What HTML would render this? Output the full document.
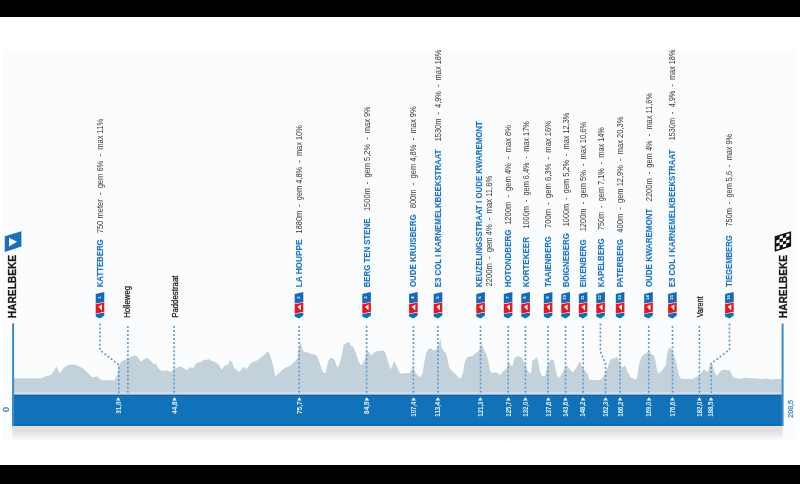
<!DOCTYPE html><html><head><meta charset="utf-8"><style>html,body{margin:0;padding:0;background:#fff;width:800px;height:484px;overflow:hidden}svg{display:block;filter:blur(0.35px)}text{font-family:"Liberation Sans",sans-serif}</style></head><body>
<svg width="800" height="484" viewBox="0 0 800 484">
<defs><linearGradient id="sh" x1="0" y1="0" x2="0" y2="1"><stop offset="0" stop-color="#e4e0de"/><stop offset="0.2" stop-color="#e1dfde"/><stop offset="0.3" stop-color="#dcdfe1"/><stop offset="1" stop-color="#fbfcfd"/></linearGradient></defs>
<rect x="0" y="0" width="800" height="484" fill="#ffffff"/>
<rect x="2" y="49.6" width="792.5" height="390.4" fill="#fbfcfd"/>
<rect x="0" y="0" width="800" height="17" fill="#000"/>
<rect x="0" y="465" width="800" height="19" fill="#000"/>
<polygon points="14,378.3 41.6,378.3 45.6,376.3 51,375 54,371 56.4,366.2 59.7,373.6 63,369 66,366 68.5,364.9 73.2,364.6 76.5,365.2 79.2,366.2 82.5,368 85.9,371 89,374 92.6,377.6 96.6,376.3 100,379 102.7,380.3 114.8,380.3 117.4,374.3 119.5,364.2 122.1,360.9 126.8,358.9 132.2,356.2 135.6,355.5 137.6,356.8 140.3,361.5 143,360.2 147,357.5 150.3,360.2 153.7,364.2 155.7,363.6 159.1,368.9 161.7,370.9 167.1,370.3 170.5,372.3 173.8,368.9 180.5,366.2 183.9,368.3 187.2,370.3 189.9,366.9 192.6,368.3 194.6,366.2 196.6,362.9 200,362.2 202,361.5 204,359.5 205.6,360.6 208.1,358.9 210.7,360.2 213.4,361.5 216.8,362.9 218.8,364.9 221.5,369.6 223.1,368.3 224.8,365.2 226.8,365.6 228.2,364.2 229.8,360.6 231.9,362.2 234.2,368.3 236,368.9 238.3,371.6 240.3,371.3 242.7,367.6 244,366.9 246.3,369.6 249,365.6 251.7,362.2 254.4,361.5 257.7,360.2 261.7,356.8 265.1,354.2 267.1,351.5 269.1,352.8 271.1,358.2 273.2,366.2 275.2,376.3 277.2,375 279.9,372.3 283.2,368.9 287.2,366.9 289.9,366 292.6,363.6 295.3,360.9 297.3,358.2 298.7,350.1 300,342.8 301.3,344.1 302.7,350.1 304,352.1 306.7,351.7 309.4,353.5 312.8,354.2 315.4,354.8 317.4,356.8 319.5,362.2 321.5,368.9 323.5,372.7 325.8,372.7 327.5,363.6 328.9,359.5 331.5,357.5 334.2,359.5 336,363.6 337.3,367.6 338.9,365.6 340.9,359.5 342.7,351.5 343.6,344.8 345.6,343.4 348.1,342.3 349.7,342.8 350.7,345.4 353,346.8 355,350.8 357,356.8 359.1,362.2 361.1,365.6 363.1,363.6 365.1,358.2 366.4,350.1 368.5,351.5 371.1,355.5 373.2,353.5 376.5,351.2 380.5,350.8 383.9,350.4 385.9,354.2 387.9,361.5 390.6,369.6 392.6,365.6 394,361.1 396,364.9 398,368.9 400,373.6 402.7,373.6 405.4,373.2 409.4,373 411.4,370.3 412.8,365.6 414.1,370.3 416.1,373.6 418.8,376.3 420.8,377 422.6,373 424.2,363.6 426.2,352.8 428.2,349.5 430.2,348.1 432.2,349.5 434.9,350.8 436.9,348.8 438.3,346.1 439.6,340.7 440.5,339.4 441.6,347.4 443.6,350.8 445.6,352.8 447,356.8 449,366.9 451,370.3 453.7,372.3 456.4,375 459.1,378.3 461.1,377.7 463.1,373 464.4,363.6 465.8,358.9 468.5,356.8 471.8,356.2 474.5,354.2 477.2,352.1 479.9,349.5 481.2,342.1 482.6,346.1 484.6,350.8 486.6,354.8 488.6,362.2 489.9,370.3 491.9,373.2 494.6,372.3 497.3,373 500,375 502,373 504,370.3 506.7,368.3 508.7,361.5 510.7,365.6 512.8,365.6 514.1,358.9 516.1,356.6 519.5,356.2 521.5,357.5 523.5,361.5 525.5,364.9 527.5,370.3 529.5,373.6 531.1,373 532.2,360.9 534.2,359.5 536.9,357.5 538.3,362.2 540.3,373 542.3,376.3 545,376.3 547,367.6 549,362.2 551.7,358.9 553.7,360.2 555,366.2 557,375.6 559.1,377.7 561.1,375 563.8,370.3 565.8,365.2 567.8,366.2 569.8,369.6 572.5,372.3 574.5,370.3 577.2,366.2 579.9,361.1 581.2,364.9 583.2,368.3 585.9,371.6 587.9,374.3 589.3,379.7 594,379.9 600.5,379.9 602,378 604,375.5 606,371 607.5,367.6 610.2,360.6 611.9,358.5 614.8,358.3 616.8,356.8 618.1,358.9 620.1,362.9 621.5,367.6 622.8,367.6 624.8,365.6 626.2,367.6 627.5,373 628.9,373.6 630.2,377 632.9,378.3 635.2,379.7 636.9,378.3 638.3,368.9 639.6,362.2 641.6,356.8 644.3,354.2 647,352.8 649,351.5 651.7,353.9 654.4,356.2 655.7,362.2 657,370.3 658.4,373.6 661.1,371.6 663.8,368.3 665.8,364.9 667.1,354.2 668.5,348.8 669.8,347.4 671.8,349.5 673.8,354.2 675.8,360.9 677.9,370.3 679.9,378.3 683.2,379 692.6,379 696,377 700,375 702,371.6 704,369.2 706,370.9 708.1,371.9 709.4,366.2 711.4,363.8 712.8,365.6 714.1,370.9 716.1,375.6 718.1,375 720.1,371.6 722.8,370 724.8,369.6 726.8,370.3 728.9,370 730.9,372.3 732.9,377 735.6,378.1 738.9,379 741.6,378.6 745.6,377.7 751,378.3 756.4,378.6 761.7,379 767.1,378.6 771.1,379.4 775.2,379 782,379 782,392.5 14,392.5" fill="#c3d1da"/>
<rect x="13" y="392" width="770" height="3" fill="#d4dde3"/>
<rect x="12.3" y="394.8" width="770.4" height="31.2" fill="#1172b9"/>
<rect x="12.3" y="394.8" width="770.4" height="1.2" fill="#0c63aa"/>
<rect x="12.3" y="424.8" width="770.4" height="1.2" fill="#0e69b0"/>
<rect x="12.3" y="426" width="770.4" height="15" fill="url(#sh)"/>
<rect x="12.1" y="323.3" width="2" height="102.7" fill="#3b8bcb"/>
<rect x="781.6" y="323.5" width="2" height="102.5" fill="#3b8bcb"/>
<path d="M100,323.4 L100,350.1 L118.8,364.9 L118.8,393" fill="none" stroke="#5a9ad3" stroke-width="1.6" stroke-dasharray="2 2.05" />
<path d="M127.9,325.9 L127.9,393" fill="none" stroke="#5a9ad3" stroke-width="1.6" stroke-dasharray="2 2.05" />
<path d="M174.1,325.9 L174.1,393" fill="none" stroke="#5a9ad3" stroke-width="1.6" stroke-dasharray="2 2.05" />
<path d="M299.1,325.9 L299.1,393" fill="none" stroke="#5a9ad3" stroke-width="1.6" stroke-dasharray="2 2.05" />
<path d="M366.6,325.9 L366.6,393" fill="none" stroke="#5a9ad3" stroke-width="1.6" stroke-dasharray="2 2.05" />
<path d="M413.4,325.9 L413.4,393" fill="none" stroke="#5a9ad3" stroke-width="1.6" stroke-dasharray="2 2.05" />
<path d="M437.9,325.9 L437.9,393" fill="none" stroke="#5a9ad3" stroke-width="1.6" stroke-dasharray="2 2.05" />
<path d="M480.5,325.9 L480.5,393" fill="none" stroke="#5a9ad3" stroke-width="1.6" stroke-dasharray="2 2.05" />
<path d="M508.2,325.9 L508.2,393" fill="none" stroke="#5a9ad3" stroke-width="1.6" stroke-dasharray="2 2.05" />
<path d="M525.4,325.9 L525.4,393" fill="none" stroke="#5a9ad3" stroke-width="1.6" stroke-dasharray="2 2.05" />
<path d="M548.1,325.9 L548.1,393" fill="none" stroke="#5a9ad3" stroke-width="1.6" stroke-dasharray="2 2.05" />
<path d="M565.5,325.9 L565.5,393" fill="none" stroke="#5a9ad3" stroke-width="1.6" stroke-dasharray="2 2.05" />
<path d="M583.1,325.9 L583.1,393" fill="none" stroke="#5a9ad3" stroke-width="1.6" stroke-dasharray="2 2.05" />
<path d="M600.4,323.4 L600.4,351.6 L605.5,363.8 L605.5,393" fill="none" stroke="#5a9ad3" stroke-width="1.6" stroke-dasharray="2 2.05" />
<path d="M620.1,325.9 L620.1,393" fill="none" stroke="#5a9ad3" stroke-width="1.6" stroke-dasharray="2 2.05" />
<path d="M648.7,325.9 L648.7,393" fill="none" stroke="#5a9ad3" stroke-width="1.6" stroke-dasharray="2 2.05" />
<path d="M672.5,325.9 L672.5,393" fill="none" stroke="#5a9ad3" stroke-width="1.6" stroke-dasharray="2 2.05" />
<path d="M699.4,325.9 L699.4,393" fill="none" stroke="#5a9ad3" stroke-width="1.6" stroke-dasharray="2 2.05" />
<path d="M729.5,323.4 L729.5,349.5 L711.2,363.6 L711.2,393" fill="none" stroke="#5a9ad3" stroke-width="1.6" stroke-dasharray="2 2.05" />
<polygon points="115.9,400.6 120.5,400.6 118.2,397.2" fill="#fff"/>
<text transform="translate(120.6,413.83) rotate(-90)" x="0" y="0" font-size="6.6" font-weight="bold" fill="#eef4fa" textLength="12.25" lengthAdjust="spacingAndGlyphs" >31,0</text>
<polygon points="172.2,400.6 176.8,400.6 174.5,397.2" fill="#fff"/>
<text transform="translate(176.9,413.79) rotate(-90)" x="0" y="0" font-size="6.6" font-weight="bold" fill="#eef4fa" textLength="12.16" lengthAdjust="spacingAndGlyphs" >44,8</text>
<polygon points="297.1,400.6 301.7,400.6 299.4,397.2" fill="#fff"/>
<text transform="translate(301.8,413.96) rotate(-90)" x="0" y="0" font-size="6.6" font-weight="bold" fill="#eef4fa" textLength="12.42" lengthAdjust="spacingAndGlyphs" >75,7</text>
<polygon points="364.5,400.6 369.1,400.6 366.8,397.2" fill="#fff"/>
<text transform="translate(369.2,413.89) rotate(-90)" x="0" y="0" font-size="6.6" font-weight="bold" fill="#eef4fa" textLength="12.32" lengthAdjust="spacingAndGlyphs" >84,9</text>
<polygon points="411.3,400.6 415.9,400.6 413.6,397.2" fill="#fff"/>
<text transform="translate(416,416.66) rotate(-90)" x="0" y="0" font-size="6.6" font-weight="bold" fill="#eef4fa" textLength="14.86" lengthAdjust="spacingAndGlyphs" >107,4</text>
<polygon points="435.6,400.6 440.2,400.6 437.9,397.2" fill="#fff"/>
<text transform="translate(440.3,416.66) rotate(-90)" x="0" y="0" font-size="6.6" font-weight="bold" fill="#eef4fa" textLength="14.87" lengthAdjust="spacingAndGlyphs" >113,4</text>
<polygon points="478.1,400.6 482.7,400.6 480.4,397.2" fill="#fff"/>
<text transform="translate(482.8,416.66) rotate(-90)" x="0" y="0" font-size="6.6" font-weight="bold" fill="#eef4fa" textLength="15.08" lengthAdjust="spacingAndGlyphs" >121,3</text>
<polygon points="506.1,400.6 510.7,400.6 508.4,397.2" fill="#fff"/>
<text transform="translate(510.8,416.66) rotate(-90)" x="0" y="0" font-size="6.6" font-weight="bold" fill="#eef4fa" textLength="15.11" lengthAdjust="spacingAndGlyphs" >125,7</text>
<polygon points="523.1,400.6 527.7,400.6 525.4,397.2" fill="#fff"/>
<text transform="translate(527.8,416.66) rotate(-90)" x="0" y="0" font-size="6.6" font-weight="bold" fill="#eef4fa" textLength="15.08" lengthAdjust="spacingAndGlyphs" >132,0</text>
<polygon points="546,400.6 550.6,400.6 548.3,397.2" fill="#fff"/>
<text transform="translate(550.7,416.66) rotate(-90)" x="0" y="0" font-size="6.6" font-weight="bold" fill="#eef4fa" textLength="15.08" lengthAdjust="spacingAndGlyphs" >137,6</text>
<polygon points="563.1,400.6 567.7,400.6 565.4,397.2" fill="#fff"/>
<text transform="translate(567.8,416.66) rotate(-90)" x="0" y="0" font-size="6.6" font-weight="bold" fill="#eef4fa" textLength="15.08" lengthAdjust="spacingAndGlyphs" >143,6</text>
<polygon points="580.7,400.6 585.3,400.6 583,397.2" fill="#fff"/>
<text transform="translate(585.4,416.66) rotate(-90)" x="0" y="0" font-size="6.6" font-weight="bold" fill="#eef4fa" textLength="15.08" lengthAdjust="spacingAndGlyphs" >148,2</text>
<polygon points="603.3,400.6 607.9,400.6 605.6,397.2" fill="#fff"/>
<text transform="translate(608,416.66) rotate(-90)" x="0" y="0" font-size="6.6" font-weight="bold" fill="#eef4fa" textLength="15.08" lengthAdjust="spacingAndGlyphs" >162,3</text>
<polygon points="617.8,400.6 622.4,400.6 620.1,397.2" fill="#fff"/>
<text transform="translate(622.5,416.66) rotate(-90)" x="0" y="0" font-size="6.6" font-weight="bold" fill="#eef4fa" textLength="15.08" lengthAdjust="spacingAndGlyphs" >166,2</text>
<polygon points="646.7,400.6 651.3,400.6 649,397.2" fill="#fff"/>
<text transform="translate(651.4,416.66) rotate(-90)" x="0" y="0" font-size="6.6" font-weight="bold" fill="#eef4fa" textLength="15.08" lengthAdjust="spacingAndGlyphs" >169,0</text>
<polygon points="670.1,400.6 674.7,400.6 672.4,397.2" fill="#fff"/>
<text transform="translate(674.8,416.66) rotate(-90)" x="0" y="0" font-size="6.6" font-weight="bold" fill="#eef4fa" textLength="15.08" lengthAdjust="spacingAndGlyphs" >176,6</text>
<polygon points="697.1,400.6 701.7,400.6 699.4,397.2" fill="#fff"/>
<text transform="translate(701.8,416.66) rotate(-90)" x="0" y="0" font-size="6.6" font-weight="bold" fill="#eef4fa" textLength="15.08" lengthAdjust="spacingAndGlyphs" >182,0</text>
<polygon points="708.7,400.6 713.3,400.6 711,397.2" fill="#fff"/>
<text transform="translate(713.4,416.66) rotate(-90)" x="0" y="0" font-size="6.6" font-weight="bold" fill="#eef4fa" textLength="15.02" lengthAdjust="spacingAndGlyphs" >188,5</text>
<text transform="translate(8.9,411.92) rotate(-90)" x="0" y="0" font-size="8.4" font-weight="normal" fill="#3a88cc" textLength="5.05" lengthAdjust="spacingAndGlyphs" stroke="#3a88cc" stroke-width="0.3">0</text>
<text transform="translate(793.3,417.75) rotate(-90)" x="0" y="0" font-size="7.4" font-weight="normal" fill="#3a88cc" textLength="17.75" lengthAdjust="spacingAndGlyphs" stroke="#3a88cc" stroke-width="0.25">208,5</text>
<polygon points="95.7,294 104.3,292 104.3,302 95.7,303.6" fill="#1468b8"/><polygon points="95.7,304.2 104.3,302.6 104.3,311.8 95.7,313.4" fill="#e8141e"/><polygon points="98.3,306.8 102,304.5 101.9,310.5" fill="#fff"/><polygon points="95.7,314 104.3,312.4 104.3,315.4 100,318.4 95.7,316.4" fill="#1468b8"/><text transform="translate(100.6,297.6) rotate(-90)" font-size="4.2" font-weight="bold" fill="#fff" text-anchor="middle">1</text>
<text transform="translate(103,287.31) rotate(-90)" x="0" y="0" font-size="8.6" font-weight="bold" fill="#1f77c7" textLength="47.96" lengthAdjust="spacingAndGlyphs" stroke="#1f77c7" stroke-width="0.12">KATTEBERG</text>
<text transform="translate(103,233.28) rotate(-90)" x="0" y="0" font-size="8.2" font-weight="normal" fill="#3a3a3a" textLength="114.44" lengthAdjust="spacingAndGlyphs" xml:space="preserve">750 meter  -  gem 6%  -  max 11%</text>
<polygon points="294.7,294 303.3,292 303.3,302 294.7,303.6" fill="#1468b8"/><polygon points="294.7,304.2 303.3,302.6 303.3,311.8 294.7,313.4" fill="#e8141e"/><polygon points="297.3,306.8 301,304.5 300.9,310.5" fill="#fff"/><polygon points="294.7,314 303.3,312.4 303.3,315.4 299,318.4 294.7,316.4" fill="#1468b8"/><text transform="translate(299.6,297.6) rotate(-90)" font-size="4.2" font-weight="bold" fill="#fff" text-anchor="middle">2</text>
<text transform="translate(302,287.33) rotate(-90)" x="0" y="0" font-size="8.6" font-weight="bold" fill="#1f77c7" textLength="47.84" lengthAdjust="spacingAndGlyphs" stroke="#1f77c7" stroke-width="0.12">LA HOUPPE</text>
<text transform="translate(302,233.46) rotate(-90)" x="0" y="0" font-size="8.2" font-weight="normal" fill="#3a3a3a" textLength="108.21" lengthAdjust="spacingAndGlyphs" xml:space="preserve">1880m  -  gem 4,8%  -  max 10%</text>
<polygon points="362.3,294 370.9,292 370.9,302 362.3,303.6" fill="#1468b8"/><polygon points="362.3,304.2 370.9,302.6 370.9,311.8 362.3,313.4" fill="#e8141e"/><polygon points="364.9,306.8 368.6,304.5 368.5,310.5" fill="#fff"/><polygon points="362.3,314 370.9,312.4 370.9,315.4 366.6,318.4 362.3,316.4" fill="#1468b8"/><text transform="translate(367.2,297.6) rotate(-90)" font-size="4.2" font-weight="bold" fill="#fff" text-anchor="middle">3</text>
<text transform="translate(369.6,287.31) rotate(-90)" x="0" y="0" font-size="8.6" font-weight="bold" fill="#1f77c7" textLength="68.8" lengthAdjust="spacingAndGlyphs" stroke="#1f77c7" stroke-width="0.12">BERG TEN STENE</text>
<text transform="translate(369.6,211.06) rotate(-90)" x="0" y="0" font-size="8.2" font-weight="normal" fill="#3a3a3a" textLength="104.81" lengthAdjust="spacingAndGlyphs" xml:space="preserve">1500m  -  gem 5,2%  -  max 9%</text>
<polygon points="409.1,294 417.7,292 417.7,302 409.1,303.6" fill="#1468b8"/><polygon points="409.1,304.2 417.7,302.6 417.7,311.8 409.1,313.4" fill="#e8141e"/><polygon points="411.7,306.8 415.4,304.5 415.3,310.5" fill="#fff"/><polygon points="409.1,314 417.7,312.4 417.7,315.4 413.4,318.4 409.1,316.4" fill="#1468b8"/><text transform="translate(414,297.6) rotate(-90)" font-size="4.2" font-weight="bold" fill="#fff" text-anchor="middle">4</text>
<text transform="translate(416.4,287.12) rotate(-90)" x="0" y="0" font-size="8.6" font-weight="bold" fill="#1f77c7" textLength="72.68" lengthAdjust="spacingAndGlyphs" stroke="#1f77c7" stroke-width="0.12">OUDE KRUISBERG</text>
<text transform="translate(416.4,208.3) rotate(-90)" x="0" y="0" font-size="8.2" font-weight="normal" fill="#3a3a3a" textLength="102.06" lengthAdjust="spacingAndGlyphs" xml:space="preserve">800m  -  gem 4,8%  -  max 9%</text>
<polygon points="433.7,294 442.3,292 442.3,302 433.7,303.6" fill="#1468b8"/><polygon points="433.7,304.2 442.3,302.6 442.3,311.8 433.7,313.4" fill="#e8141e"/><polygon points="436.3,306.8 440,304.5 439.9,310.5" fill="#fff"/><polygon points="433.7,314 442.3,312.4 442.3,315.4 438,318.4 433.7,316.4" fill="#1468b8"/><text transform="translate(438.6,297.6) rotate(-90)" font-size="4.2" font-weight="bold" fill="#fff" text-anchor="middle">5</text>
<text transform="translate(441,287.31) rotate(-90)" x="0" y="0" font-size="8.6" font-weight="bold" fill="#1f77c7" textLength="137.96" lengthAdjust="spacingAndGlyphs" stroke="#1f77c7" stroke-width="0.12">E3 COL I KARNEMELKBEEKSTRAAT</text>
<text transform="translate(441,141.25) rotate(-90)" x="0" y="0" font-size="8.2" font-weight="normal" fill="#3a3a3a" textLength="91.71" lengthAdjust="spacingAndGlyphs" xml:space="preserve">1530m  -  4,9%  -  max 18%</text>
<polygon points="476.3,294 484.9,292 484.9,302 476.3,303.6" fill="#1468b8"/><polygon points="476.3,304.2 484.9,302.6 484.9,311.8 476.3,313.4" fill="#e8141e"/><polygon points="478.9,306.8 482.6,304.5 482.5,310.5" fill="#fff"/><polygon points="476.3,314 484.9,312.4 484.9,315.4 480.6,318.4 476.3,316.4" fill="#1468b8"/><text transform="translate(481.2,297.6) rotate(-90)" font-size="4.2" font-weight="bold" fill="#fff" text-anchor="middle">6</text>
<text transform="translate(482.3,287.31) rotate(-90)" x="0" y="0" font-size="8.6" font-weight="bold" fill="#1f77c7" textLength="166.16" lengthAdjust="spacingAndGlyphs" stroke="#1f77c7" stroke-width="0.12">KEUZELINGSSTRAAT I OUDE KWAREMONT</text>
<polygon points="503.8,294 512.4,292 512.4,302 503.8,303.6" fill="#1468b8"/><polygon points="503.8,304.2 512.4,302.6 512.4,311.8 503.8,313.4" fill="#e8141e"/><polygon points="506.4,306.8 510.1,304.5 510,310.5" fill="#fff"/><polygon points="503.8,314 512.4,312.4 512.4,315.4 508.1,318.4 503.8,316.4" fill="#1468b8"/><text transform="translate(508.7,297.6) rotate(-90)" font-size="4.2" font-weight="bold" fill="#fff" text-anchor="middle">7</text>
<text transform="translate(511.1,287.32) rotate(-90)" x="0" y="0" font-size="8.6" font-weight="bold" fill="#1f77c7" textLength="57.89" lengthAdjust="spacingAndGlyphs" stroke="#1f77c7" stroke-width="0.12">HOTONDBERG</text>
<text transform="translate(511.1,224.87) rotate(-90)" x="0" y="0" font-size="8.2" font-weight="normal" fill="#3a3a3a" textLength="99.82" lengthAdjust="spacingAndGlyphs" xml:space="preserve">1200m  -  gem 4%  -  max 8%</text>
<polygon points="521.3,294 529.9,292 529.9,302 521.3,303.6" fill="#1468b8"/><polygon points="521.3,304.2 529.9,302.6 529.9,311.8 521.3,313.4" fill="#e8141e"/><polygon points="523.9,306.8 527.6,304.5 527.5,310.5" fill="#fff"/><polygon points="521.3,314 529.9,312.4 529.9,315.4 525.6,318.4 521.3,316.4" fill="#1468b8"/><text transform="translate(526.2,297.6) rotate(-90)" font-size="4.2" font-weight="bold" fill="#fff" text-anchor="middle">8</text>
<text transform="translate(528.6,287.32) rotate(-90)" x="0" y="0" font-size="8.6" font-weight="bold" fill="#1f77c7" textLength="50.26" lengthAdjust="spacingAndGlyphs" stroke="#1f77c7" stroke-width="0.12">KORTEKEER</text>
<text transform="translate(528.6,228.55) rotate(-90)" x="0" y="0" font-size="8.2" font-weight="normal" fill="#3a3a3a" textLength="107.3" lengthAdjust="spacingAndGlyphs" xml:space="preserve">1000m  -  gem 6,4%  -  max 17%</text>
<polygon points="543.8,294 552.4,292 552.4,302 543.8,303.6" fill="#1468b8"/><polygon points="543.8,304.2 552.4,302.6 552.4,311.8 543.8,313.4" fill="#e8141e"/><polygon points="546.4,306.8 550.1,304.5 550,310.5" fill="#fff"/><polygon points="543.8,314 552.4,312.4 552.4,315.4 548.1,318.4 543.8,316.4" fill="#1468b8"/><text transform="translate(548.7,297.6) rotate(-90)" font-size="4.2" font-weight="bold" fill="#fff" text-anchor="middle">9</text>
<text transform="translate(551.1,286.88) rotate(-90)" x="0" y="0" font-size="8.6" font-weight="bold" fill="#1f77c7" textLength="50.63" lengthAdjust="spacingAndGlyphs" stroke="#1f77c7" stroke-width="0.12">TAAIENBERG</text>
<text transform="translate(551.1,228.08) rotate(-90)" x="0" y="0" font-size="8.2" font-weight="normal" fill="#3a3a3a" textLength="107.14" lengthAdjust="spacingAndGlyphs" xml:space="preserve">700m  -  gem 6,3%  -  max 16%</text>
<polygon points="561.3,294 569.9,292 569.9,302 561.3,303.6" fill="#1468b8"/><polygon points="561.3,304.2 569.9,302.6 569.9,311.8 561.3,313.4" fill="#e8141e"/><polygon points="563.9,306.8 567.6,304.5 567.5,310.5" fill="#fff"/><polygon points="561.3,314 569.9,312.4 569.9,315.4 565.6,318.4 561.3,316.4" fill="#1468b8"/><text transform="translate(566.2,297.6) rotate(-90)" font-size="4.2" font-weight="bold" fill="#fff" text-anchor="middle">10</text>
<text transform="translate(568.6,287.32) rotate(-90)" x="0" y="0" font-size="8.6" font-weight="bold" fill="#1f77c7" textLength="54.17" lengthAdjust="spacingAndGlyphs" stroke="#1f77c7" stroke-width="0.12">BOIGNEBERG</text>
<text transform="translate(568.6,226.25) rotate(-90)" x="0" y="0" font-size="8.2" font-weight="normal" fill="#3a3a3a" textLength="113.6" lengthAdjust="spacingAndGlyphs" xml:space="preserve">1000m  -  gem 5,2%  -  max 12,3%</text>
<polygon points="578.8,294 587.4,292 587.4,302 578.8,303.6" fill="#1468b8"/><polygon points="578.8,304.2 587.4,302.6 587.4,311.8 578.8,313.4" fill="#e8141e"/><polygon points="581.4,306.8 585.1,304.5 585,310.5" fill="#fff"/><polygon points="578.8,314 587.4,312.4 587.4,315.4 583.1,318.4 578.8,316.4" fill="#1468b8"/><text transform="translate(583.7,297.6) rotate(-90)" font-size="4.2" font-weight="bold" fill="#fff" text-anchor="middle">11</text>
<text transform="translate(586.1,287.32) rotate(-90)" x="0" y="0" font-size="8.6" font-weight="bold" fill="#1f77c7" textLength="47.99" lengthAdjust="spacingAndGlyphs" stroke="#1f77c7" stroke-width="0.12">EIKENBERG</text>
<text transform="translate(586.1,231.36) rotate(-90)" x="0" y="0" font-size="8.2" font-weight="normal" fill="#3a3a3a" textLength="109.42" lengthAdjust="spacingAndGlyphs" xml:space="preserve">1200m  -  gem 5%  -  max 10,6%</text>
<polygon points="596.3,294 604.9,292 604.9,302 596.3,303.6" fill="#1468b8"/><polygon points="596.3,304.2 604.9,302.6 604.9,311.8 596.3,313.4" fill="#e8141e"/><polygon points="598.9,306.8 602.6,304.5 602.5,310.5" fill="#fff"/><polygon points="596.3,314 604.9,312.4 604.9,315.4 600.6,318.4 596.3,316.4" fill="#1468b8"/><text transform="translate(601.2,297.6) rotate(-90)" font-size="4.2" font-weight="bold" fill="#fff" text-anchor="middle">12</text>
<text transform="translate(603.6,287.31) rotate(-90)" x="0" y="0" font-size="8.6" font-weight="bold" fill="#1f77c7" textLength="48.96" lengthAdjust="spacingAndGlyphs" stroke="#1f77c7" stroke-width="0.12">KAPELBERG</text>
<text transform="translate(603.6,230.17) rotate(-90)" x="0" y="0" font-size="8.2" font-weight="normal" fill="#3a3a3a" textLength="103.02" lengthAdjust="spacingAndGlyphs" xml:space="preserve">750m  -  gem 7,1%  -  max 14%</text>
<polygon points="615.8,294 624.4,292 624.4,302 615.8,303.6" fill="#1468b8"/><polygon points="615.8,304.2 624.4,302.6 624.4,311.8 615.8,313.4" fill="#e8141e"/><polygon points="618.4,306.8 622.1,304.5 622,310.5" fill="#fff"/><polygon points="615.8,314 624.4,312.4 624.4,315.4 620.1,318.4 615.8,316.4" fill="#1468b8"/><text transform="translate(620.7,297.6) rotate(-90)" font-size="4.2" font-weight="bold" fill="#fff" text-anchor="middle">13</text>
<text transform="translate(623.1,287.31) rotate(-90)" x="0" y="0" font-size="8.6" font-weight="bold" fill="#1f77c7" textLength="48.27" lengthAdjust="spacingAndGlyphs" stroke="#1f77c7" stroke-width="0.12">PATERBERG</text>
<text transform="translate(623.1,232.65) rotate(-90)" x="0" y="0" font-size="8.2" font-weight="normal" fill="#3a3a3a" textLength="116.01" lengthAdjust="spacingAndGlyphs" xml:space="preserve">400m  -  gem 12,9%  -  max 20,3%</text>
<polygon points="644.2,294 652.8,292 652.8,302 644.2,303.6" fill="#1468b8"/><polygon points="644.2,304.2 652.8,302.6 652.8,311.8 644.2,313.4" fill="#e8141e"/><polygon points="646.8,306.8 650.5,304.5 650.4,310.5" fill="#fff"/><polygon points="644.2,314 652.8,312.4 652.8,315.4 648.5,318.4 644.2,316.4" fill="#1468b8"/><text transform="translate(649.1,297.6) rotate(-90)" font-size="4.2" font-weight="bold" fill="#fff" text-anchor="middle">14</text>
<text transform="translate(651.5,287.12) rotate(-90)" x="0" y="0" font-size="8.6" font-weight="bold" fill="#1f77c7" textLength="78.47" lengthAdjust="spacingAndGlyphs" stroke="#1f77c7" stroke-width="0.12">OUDE KWAREMONT</text>
<text transform="translate(651.5,201.17) rotate(-90)" x="0" y="0" font-size="8.2" font-weight="normal" fill="#3a3a3a" textLength="108.23" lengthAdjust="spacingAndGlyphs" xml:space="preserve">2200m  -  gem 4%  -  max 11,6%</text>
<polygon points="668.1,294 676.7,292 676.7,302 668.1,303.6" fill="#1468b8"/><polygon points="668.1,304.2 676.7,302.6 676.7,311.8 668.1,313.4" fill="#e8141e"/><polygon points="670.7,306.8 674.4,304.5 674.3,310.5" fill="#fff"/><polygon points="668.1,314 676.7,312.4 676.7,315.4 672.4,318.4 668.1,316.4" fill="#1468b8"/><text transform="translate(673,297.6) rotate(-90)" font-size="4.2" font-weight="bold" fill="#fff" text-anchor="middle">15</text>
<text transform="translate(675.4,287.31) rotate(-90)" x="0" y="0" font-size="8.6" font-weight="bold" fill="#1f77c7" textLength="137.55" lengthAdjust="spacingAndGlyphs" stroke="#1f77c7" stroke-width="0.12">E3 COL I KARNEMELKBEEKSTRAAT</text>
<text transform="translate(675.4,140.35) rotate(-90)" x="0" y="0" font-size="8.2" font-weight="normal" fill="#3a3a3a" textLength="90.8" lengthAdjust="spacingAndGlyphs" xml:space="preserve">1530m  -  4,9%  -  max 18%</text>
<polygon points="725.1,294 733.7,292 733.7,302 725.1,303.6" fill="#1468b8"/><polygon points="725.1,304.2 733.7,302.6 733.7,311.8 725.1,313.4" fill="#e8141e"/><polygon points="727.7,306.8 731.4,304.5 731.3,310.5" fill="#fff"/><polygon points="725.1,314 733.7,312.4 733.7,315.4 729.4,318.4 725.1,316.4" fill="#1468b8"/><text transform="translate(730,297.6) rotate(-90)" font-size="4.2" font-weight="bold" fill="#fff" text-anchor="middle">16</text>
<text transform="translate(732.4,286.88) rotate(-90)" x="0" y="0" font-size="8.6" font-weight="bold" fill="#1f77c7" textLength="51.62" lengthAdjust="spacingAndGlyphs" stroke="#1f77c7" stroke-width="0.12">TIEGEMBERG</text>
<text transform="translate(732.4,226.47) rotate(-90)" x="0" y="0" font-size="8.2" font-weight="normal" fill="#3a3a3a" textLength="92.62" lengthAdjust="spacingAndGlyphs" xml:space="preserve">750m  -  gem 5,6  -  max 9%</text>
<text transform="translate(491.6,286.38) rotate(-90)" x="0" y="0" font-size="8.2" font-weight="normal" fill="#3a3a3a" textLength="110.54" lengthAdjust="spacingAndGlyphs" xml:space="preserve">2200m  -  gem 4%  -  max 11,6%</text>
<text transform="translate(130.4,317.82) rotate(-90)" x="0" y="0" font-size="8.2" font-weight="normal" fill="#1e1e1e" textLength="31.89" lengthAdjust="spacingAndGlyphs" stroke="#1e1e1e" stroke-width="0.25">Holleweg</text>
<text transform="translate(177.6,317.83) rotate(-90)" x="0" y="0" font-size="8.2" font-weight="normal" fill="#1e1e1e" textLength="42.25" lengthAdjust="spacingAndGlyphs" stroke="#1e1e1e" stroke-width="0.25">Paddestraat</text>
<text transform="translate(702.6,317.2) rotate(-90)" x="0" y="0" font-size="8.2" font-weight="normal" fill="#1e1e1e" textLength="20.72" lengthAdjust="spacingAndGlyphs" stroke="#1e1e1e" stroke-width="0.25">Varent</text>
<text transform="translate(16.2,318.16) rotate(-90)" x="0" y="0" font-size="10.6" font-weight="bold" fill="#1a1a1a" textLength="63.24" lengthAdjust="spacingAndGlyphs" stroke="#1a1a1a" stroke-width="0.25">HARELBEKE</text>
<text transform="translate(786.8,318.16) rotate(-90)" x="0" y="0" font-size="10.6" font-weight="bold" fill="#1a1a1a" textLength="63.24" lengthAdjust="spacingAndGlyphs" stroke="#1a1a1a" stroke-width="0.25">HARELBEKE</text>
<polygon points="4.8,236.2 21.4,231.3 21.4,246.5 4.8,252.1" fill="#1a6fc0"/>
<polygon points="9,237.8 9,246.5 17.1,241.8" fill="#fff"/>
<polygon points="774.7,236.2 791.1,231.3 791.1,246.5 774.7,251.8" fill="#111"/><polygon points="776.34,240.38 779.62,239.37 779.62,242.47 776.34,243.49" fill="#fff"/><polygon points="776.34,246.6 779.62,245.57 779.62,248.66 776.34,249.71" fill="#fff"/><polygon points="779.62,236.28 782.9,235.29 782.9,238.37 779.62,239.37" fill="#fff"/><polygon points="779.62,242.47 782.9,241.45 782.9,244.53 779.62,245.57" fill="#fff"/><polygon points="782.9,238.37 786.18,237.37 786.18,240.43 782.9,241.45" fill="#fff"/><polygon points="782.9,244.53 786.18,243.49 786.18,246.56 782.9,247.61" fill="#fff"/><polygon points="786.18,234.3 789.46,233.31 789.46,236.36 786.18,237.37" fill="#fff"/><polygon points="786.18,240.43 789.46,239.41 789.46,242.46 786.18,243.49" fill="#fff"/>
</svg></body></html>
